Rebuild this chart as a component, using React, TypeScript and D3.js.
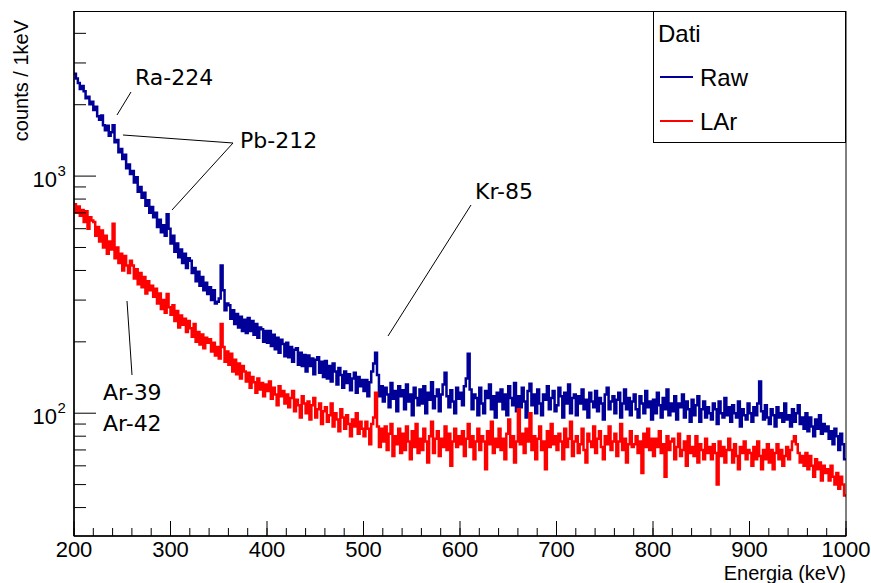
import React from "react";
import * as d3 from "d3";

const X_MIN = 200;
const X_MAX = 1000;
const BIN_WIDTH = 2;

// Raw spectrum, counts per bin (2 keV bins starting at 200 keV)
const rawCounts: number[] = [
  2700, 2580, 2470, 2330, 2400, 2280, 2130, 2160, 2010, 2060,
  1900, 1960, 1790, 1730, 1800, 1640, 1560, 1630, 1480, 1530,
  1640, 1390, 1420, 1260, 1300, 1180, 1230, 1080, 1120, 1020,
  1050, 940, 990, 860, 900, 810, 850, 750, 790, 700,
  740, 670, 700, 610, 655, 580, 620, 560, 690, 600,
  520, 560, 480, 520, 455, 490, 430, 470, 410, 450,
  440, 390, 410, 360, 395, 345, 375, 330, 355, 318,
  340, 300, 330, 290, 295, 305, 420, 330, 272, 290,
  285, 250, 272, 238, 262, 230, 255, 222, 248, 218,
  252, 222, 245, 214, 238, 208, 230, 226, 200, 222,
  198, 222, 192, 214, 186, 208, 180, 204, 196, 174,
  198, 172, 190, 165, 185, 188, 160, 180, 158, 176,
  150, 175, 158, 170, 146, 168, 172, 148, 165, 142,
  166, 140, 158, 136, 162, 150, 132, 155, 145, 128,
  150, 134, 146, 125, 140, 148, 122, 142, 130, 138,
  124, 138, 118, 135, 150, 162, 180, 145, 118, 130,
  112, 128, 120, 106, 134, 115, 124, 102, 130, 118,
  125, 104, 132, 112, 120, 98, 128, 116, 108, 126,
  110, 130, 100, 122, 114, 135, 105, 118, 126, 102,
  120, 132, 148, 118, 106, 125, 112, 100, 128, 115,
  122, 108, 130, 140, 178, 126, 104, 120, 116, 98,
  128, 110, 100, 124, 116, 132, 104, 118, 96, 122,
  112, 126, 104, 120, 98, 130, 116, 108, 134, 102,
  118, 106, 128, 112, 96, 124, 133, 108, 120, 100,
  126, 110, 98, 120, 114, 130, 104, 116, 124, 102,
  108, 128, 118, 96, 122, 110, 132, 100, 116, 120,
  98, 118, 110, 126, 104, 114, 96, 122, 112, 106,
  124, 102, 116, 110, 94, 120, 128, 104, 112, 118,
  100, 114, 122, 96, 110, 126, 104, 116, 98, 112,
  120, 104, 96, 118, 110, 100, 124, 106, 112, 94,
  114, 100, 122, 108, 96, 116, 104, 126, 98, 110,
  102, 118, 94, 110, 106, 120, 96, 112, 104, 92,
  114, 98, 108, 118, 92, 104, 112, 96, 106, 100,
  94, 110, 104, 90, 112, 100, 96, 116, 98, 106,
  92, 108, 100, 96, 112, 88, 104, 98, 94, 110,
  100, 92, 106, 98, 110, 136, 102, 94, 108, 96,
  90, 104, 98, 88, 106, 96, 100, 92, 110, 94,
  98, 88, 104, 92, 100, 108, 90, 96, 86, 100,
  84, 96, 88, 80, 94, 86, 98, 82, 90, 84,
  88, 78, 84, 74, 86, 80, 70, 82, 74, 64,
];

// LAr spectrum, counts per bin (2 keV bins starting at 200 keV)
const larCounts: number[] = [
  760, 700, 745, 680, 720, 640, 710, 600, 670, 650,
  640, 560, 610, 530, 590, 500, 560, 470, 530, 490,
  630, 450, 500, 430, 470, 400, 460, 420, 390, 440,
  420, 370, 405, 350, 390, 340, 375, 320, 360, 330,
  345, 310, 335, 290, 320, 275, 300, 265, 318, 280,
  260, 285, 245, 270, 230, 258, 236, 250, 220, 245,
  228, 210, 238, 200, 220, 195, 215, 188, 208, 198,
  205, 182, 198, 175, 190, 170, 238, 190, 165, 182,
  160, 178, 150, 168, 146, 162, 140, 158, 150, 136,
  148, 128, 142, 135, 122, 140, 126, 134, 118, 132,
  124, 136, 115, 128, 120, 108, 130, 118, 124, 110,
  120, 106, 116, 124, 102, 114, 108, 96, 118, 110,
  100, 112, 94, 108, 116, 96, 104, 110, 90, 102,
  106, 92, 98, 110, 88, 100, 94, 84, 104, 96,
  86, 98, 90, 80, 94, 88, 100, 82, 92, 86,
  80, 92, 86, 74, 90, 96, 122, 88, 72, 86,
  76, 88, 70, 82, 90, 66, 80, 74, 86, 68,
  82, 70, 88, 76, 64, 84, 72, 90, 68, 78,
  70, 86, 76, 62, 80, 92, 68, 78, 84, 66,
  78, 72, 88, 70, 82, 60, 76, 86, 72, 80,
  74, 84, 66, 78, 90, 72, 80, 64, 76, 86,
  70, 80, 76, 58, 84, 74, 92, 68, 78, 72,
  86, 70, 78, 64, 82, 94, 72, 80, 62, 76,
  104, 74, 82, 68, 86, 76, 100, 70, 80, 64,
  78, 88, 70, 76, 58, 84, 72, 90, 74, 80,
  70, 82, 76, 64, 86, 72, 78, 92, 66, 76,
  80, 68, 74, 86, 70, 62, 82, 76, 72, 88,
  68, 78, 84, 72, 64, 80, 74, 88, 70, 76,
  82, 66, 76, 90, 70, 78, 62, 74, 84, 72,
  74, 80, 68, 76, 56, 82, 72, 86, 70, 78,
  66, 78, 72, 84, 68, 74, 54, 80, 70, 76,
  78, 64, 72, 82, 66, 70, 76, 60, 80, 68,
  72, 66, 80, 62, 74, 70, 64, 78, 68, 72,
  64, 74, 68, 50, 76, 66, 72, 62, 70, 78,
  70, 62, 74, 66, 58, 72, 68, 76, 64, 70,
  68, 60, 72, 64, 76, 66, 58, 70, 64, 74,
  62, 70, 58, 68, 74, 64, 70, 60, 66, 72,
  64, 70, 76, 80, 74, 68, 62, 66, 60, 68,
  58, 66, 60, 54, 64, 58, 62, 52, 60, 56,
  58, 52, 60, 54, 50, 56, 48, 54, 50, 45,
];

const xMajorTicks = [200, 300, 400, 500, 600, 700, 800, 900, 1000];
const xMinorTicks = d3.range(X_MIN, X_MAX + 1, 20);
const yMajorTicks = [100, 1000];
const yMajorExp = ["2", "3"];
const yMinorTicks = [40, 50, 60, 70, 80, 90, 200, 300, 400, 500, 600, 700, 800, 900, 2000, 3000, 4000];

const seriesNames = ["Raw", "LAr"];
const seriesColors = ["#000099", "#ff0000"];

export default function App() {
  const W = 871;
  const H = 583;
  const left = 74;
  const right = 846;
  const top = 11;
  const bottom = 536;

  const x = d3.scaleLinear().domain([X_MIN, X_MAX]).range([left, right]);
  const y = d3.scaleLog().domain([30.35, 4969]).range([bottom, top]);

  const stepLine = d3
    .line<[number, number]>()
    .x((d) => x(d[0]))
    .y((d) => y(d[1]))
    .curve(d3.curveStepAfter);

  const toPoints = (arr: number[]): [number, number][] => {
    const pts: [number, number][] = arr.map((v, i) => [X_MIN + i * BIN_WIDTH, v]);
    pts.push([X_MAX, arr[arr.length - 1]]);
    return pts;
  };

  const font = "'Liberation Sans', Arial, sans-serif";
  const annFont = "'DejaVu Sans', sans-serif";

  return (
    <svg
      width={W}
      height={H}
      style={{ position: "absolute", left: 0, top: 0, background: "#fff" }}
      fontFamily={font}
    >
      <rect x={0} y={0} width={W} height={H} fill="#fff" />
      <defs>
        <clipPath id="plotClip">
          <rect x={left} y={top} width={right - left} height={bottom - top} />
        </clipPath>
      </defs>

      {/* histograms */}
      <g clipPath="url(#plotClip)">
        <path d={stepLine(toPoints(rawCounts)) || ""} fill="none" stroke={seriesColors[0]} strokeWidth={2.5} />
        <path d={stepLine(toPoints(larCounts)) || ""} fill="none" stroke={seriesColors[1]} strokeWidth={2.5} />
      </g>

      {/* frame */}
      <rect x={left} y={top + 0.5} width={right - left} height={bottom - top - 0.5} fill="none" stroke="#000" strokeWidth={1} />
      <line x1={left} x2={left} y1={top} y2={bottom} stroke="#000" strokeWidth={1.5} />
      <line x1={left} x2={right} y1={bottom} y2={bottom} stroke="#000" strokeWidth={1.5} />

      {/* x ticks */}
      {xMinorTicks.map((t) => (
        <line key={"xm" + t} x1={x(t)} x2={x(t)} y1={bottom} y2={bottom - 8} stroke="#000" strokeWidth={1} />
      ))}
      {xMajorTicks.map((t) => (
        <g key={"xM" + t}>
          <line x1={x(t)} x2={x(t)} y1={bottom} y2={bottom - 15} stroke="#000" strokeWidth={1} />
          <text x={x(t)} y={557} fontSize={22} textAnchor="middle" fill="#000">
            {t}
          </text>
        </g>
      ))}

      {/* y ticks */}
      {yMinorTicks.map((t) => (
        <line key={"ym" + t} x1={left} x2={left + 12} y1={y(t)} y2={y(t)} stroke="#000" strokeWidth={1} />
      ))}
      {yMajorTicks.map((t, i) => (
        <g key={"yM" + t}>
          <line x1={left} x2={left + 22} y1={y(t)} y2={y(t)} stroke="#000" strokeWidth={1} />
          <text x={57} y={y(t) + 11} fontSize={22} textAnchor="end" fill="#000">
            10
          </text>
          <text x={57.5} y={y(t)} fontSize={15} textAnchor="start" fill="#000">
            {yMajorExp[i]}
          </text>
        </g>
      ))}

      {/* axis titles */}
      <text
        transform="translate(28,20) rotate(-90)"
        fontSize={20}
        textAnchor="end"
        fill="#000"
      >
        counts / 1keV
      </text>
      <text x={846} y={580} fontSize={20} textAnchor="end" fill="#000">
        Energia (keV)
      </text>

      {/* annotations */}
      <g stroke="#000" strokeWidth={1}>
        <line x1={131} y1={92} x2={117} y2={115} />
        <line x1={233} y1={143} x2={123} y2={135} />
        <line x1={233} y1={143} x2={172} y2={210} />
        <line x1={471} y1={205} x2={388} y2={336} />
        <line x1={127} y1={301} x2={132} y2={375} />
      </g>
      <g fontFamily={annFont} fontSize={22} fill="#000">
        <text x={135} y={85}>Ra-224</text>
        <text x={240} y={148}>Pb-212</text>
        <text x={475} y={199}>Kr-85</text>
        <text x={103} y={400}>Ar-39</text>
        <text x={103} y={431}>Ar-42</text>
      </g>

      {/* legend */}
      <rect x={653.5} y={11.5} width={192} height={131} fill="#fff" stroke="#000" strokeWidth={1} />
      <text x={658} y={42} fontSize={24} fill="#000">
        Dati
      </text>
      {seriesNames.map((name, i) => (
        <g key={name}>
          <line x1={660} x2={693} y1={77 + i * 44} y2={77 + i * 44} stroke={seriesColors[i]} strokeWidth={2} />
          <text x={700} y={86 + i * 44} fontSize={24} fill="#000">
            {name}
          </text>
        </g>
      ))}
    </svg>
  );
}
